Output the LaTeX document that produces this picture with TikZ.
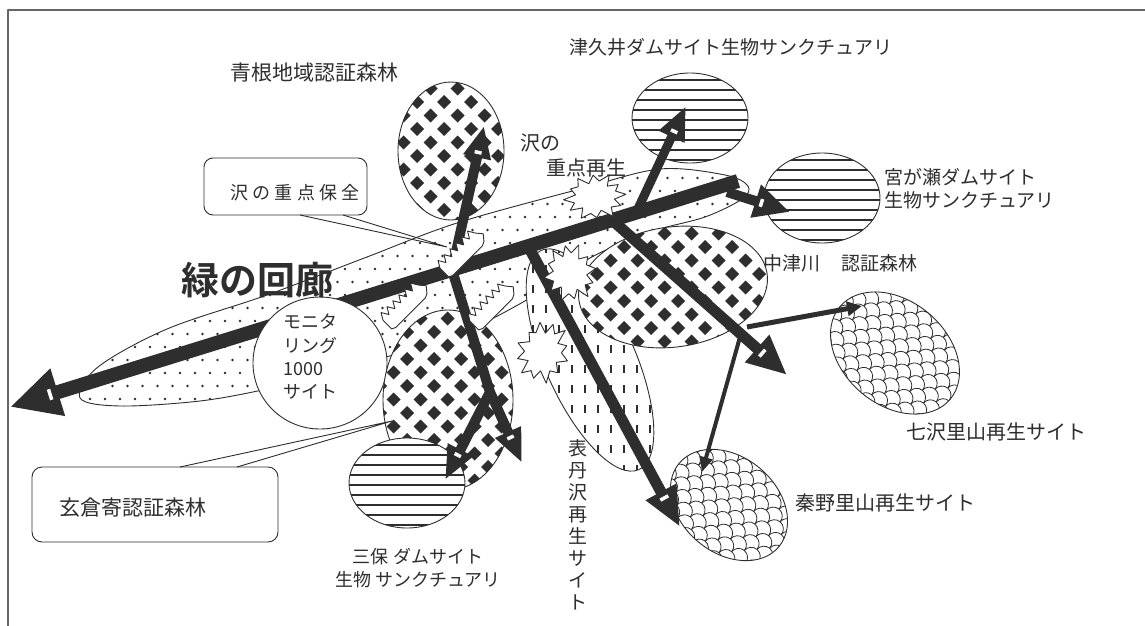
\documentclass[tikz,border=0pt]{standalone}
\usepackage{fontspec}
\newfontfamily\jp{Noto Sans CJK JP}
\newfontfamily\jpb{Noto Sans CJK JP Bold}
\usetikzlibrary{arrows.meta,calc}
\definecolor{ink}{gray}{0.18}
\definecolor{framec}{gray}{0.4}
% diamond grid: x0, y0, cols, rows
\newcommand\dgrid[4]{\foreach \r in {0,...,#4}{\foreach \c in {0,...,#3}{%
  \fill[ink] ({#1+\c*27+mod(\r,2)*13.5},{#2+\r*13.5}) +(0,-7) -- +(7,0) -- +(0,7) -- +(-7,0) -- cycle;}}}
% stripes: x0, x1, y0, count
\newcommand\sgrid[4]{\foreach \k in {0,...,#4}{\draw[ink,line width=1.7pt] (#1,{#3+\k*10}) -- (#2,{#3+\k*10});}}
% fish scales: xmin, ymin, cols, rows
\newcommand\scalegrid[4]{\foreach \r in {0,...,#4}{\foreach \c in {0,...,#3}{%
  \draw[ink,line width=0.8pt] ({#1+\c*18+mod(\r,2)*9},{#2+\r*9}) arc[start angle=180,end angle=360,radius=9];}}}
% white tick near an arrow head: start, tip, distance from tip, height
\newcommand\whitetick[4]{\path (#1) -- ($(#2)!#3!(#1)$) node[pos=1,sloped,fill=white,inner sep=0pt,minimum width=3.5pt,minimum height=#4]{};}
% jagged white burst: cx, cy, rx, ry, rotation
\newcommand\jag[5]{\filldraw[draw=ink,line width=0.9pt,fill=white,rotate around={#5:(#1,#2)}] ({#1+#3},{#2})
  \foreach \k/\f in {1/.64,2/.93,3/.7,4/1.05,5/.62,6/.9,7/.72,8/1,9/.6,10/.96,11/.7,12/1.02,13/.64,14/.88,15/.72,16/1,17/.62,18/.95,19/.7,20/1.04,21/.6,22/.9,23/.7}
  { -- ({#1+#3*\f*cos(\k*15)},{#2+#4*\f*sin(\k*15)}) } -- cycle;}
% spiky bar: cx, cy, half length, half width, rotation
\newcommand\spikebar[5]{\filldraw[draw=ink,line width=0.9pt,fill=white,rotate around={#5:(#1,#2)}] ({#1-#3},{#2-#4})
  \foreach \k/\s in {1/1,2/0,3/1,4/0,5/1,6/0,7/1,8/0,9/1,10/0,11/1}{ -- ({#1-#3+\k*2*#3/12},{#2-#4-\s*7}) } -- ({#1+#3},{#2-#4}) -- ({#1+#3+5},{#2})
  -- ({#1+#3},{#2+#4}) \foreach \k/\s in {11/1,9/1,7/1,5/1,3/1,1/1}{ -- ({#1-#3+\k*2*#3/12},{#2+#4+\s*2}) } -- ({#1-#3},{#2+#4}) -- cycle;}
\newcommand\corridorpath{plot[smooth cycle,tension=0.55] coordinates {(80,398) (98,367) (167,329) (267,295) (367,257) (457,223) (580,189) (660,169) (725,175) (748,186) (742,199) (705,217) (650,232) (590,258) (530,298) (460,334) (393,355) (330,373) (267,389) (200,401) (120,406)}}
\begin{document}
\begin{tikzpicture}[x=1pt,y=-1pt,line join=round,
  outl/.style={draw=ink,line width=0.9pt},
  lbl/.style={text=ink,inner sep=0pt,font=\jp\fontsize{19}{23}\selectfont}]
\useasboundingbox (0,0) rectangle (1145,626);
\fill[white] (0,0) rectangle (1145,626);
% frame
\draw[framec,line width=1.3pt] (8,626) -- (8,10) -- (1145,10);

% named end points
\coordinate (mainR) at (738,181);
\coordinate (mainL) at (10,407);
\coordinate (J0) at (452,270);
\coordinate (aoneT) at (484,126);
\coordinate (tsuS) at (636,213);
\coordinate (tsuT) at (686,106);
\coordinate (miyS) at (727,192);
\coordinate (miyT) at (790,212);
\coordinate (nakS) at (612,220);
\coordinate (nakT) at (787,375);
\coordinate (omoS) at (528,246);
\coordinate (omoT) at (680,527);
\coordinate (F) at (490,392);
\coordinate (mih1T) at (445,480);
\coordinate (mih2T) at (522,463);
\coordinate (nanS) at (747,327);
\coordinate (nanT) at (862,306);
\coordinate (hadS) at (740,337);
\coordinate (hadT) at (702,472);

% green corridor (dotted)
\begin{scope}
\clip \corridorpath;
\foreach \r in {0,...,19}{\foreach \c in {0,...,45}{\fill[ink] ({75+\c*15+mod(\r,2)*7.5},{165+\r*13}) circle[radius=1.3pt];}}
\end{scope}
\draw[outl] \corridorpath;

% Omote-Tanzawa dashed ellipse
\fill[white,rotate around={-66:(590,360)}] (590,360) ellipse [x radius=120,y radius=45];
\begin{scope}
\clip[rotate around={-66:(590,360)}] (590,360) ellipse [x radius=120,y radius=45];
\foreach \r in {0,...,11}{\foreach \c in {0,...,11}{\draw[ink,line width=2pt] ({520+\c*13},{245+\r*20}) -- ++(0,8);}}
\end{scope}
\draw[outl,rotate around={-66:(590,360)}] (590,360) ellipse [x radius=120,y radius=45];

% main arrow
\draw[ink,line width=14pt,-{Triangle[length=50pt,width=46pt]}] (mainR) -- (mainL);
\whitetick{mainR}{mainL}{42pt}{11pt}

% monitoring bubble
\filldraw[outl,fill=white] (320,363) ellipse [x radius=67,y radius=66];

% checker ellipses
\begin{scope}
\clip (451,151) ellipse [x radius=53,y radius=69];
\fill[white] (380,70) rectangle (520,230);
\dgrid{390}{75}{5}{11}
\end{scope}
\draw[outl] (451,151) ellipse [x radius=53,y radius=69];

\begin{scope}
\clip (448,400) ellipse [x radius=65,y radius=90];
\fill[white] (370,300) rectangle (530,500);
\dgrid{380}{305}{5}{14}
\end{scope}
\draw[outl] (448,400) ellipse [x radius=65,y radius=90];

\begin{scope}
\clip[rotate around={8:(673,287)}] (673,287) ellipse [x radius=95,y radius=60];
\fill[white] (560,210) rectangle (790,370);
\dgrid{570}{220}{8}{10}
\end{scope}
\draw[outl,rotate around={8:(673,287)}] (673,287) ellipse [x radius=95,y radius=60];

% striped ellipses
\begin{scope}
\clip (690,118) ellipse [x radius=58,y radius=45];
\fill[white] (620,70) rectangle (760,170);
\sgrid{625}{755}{80}{8}
\end{scope}
\draw[outl] (690,118) ellipse [x radius=58,y radius=45];

\begin{scope}
\clip (822,198) ellipse [x radius=58,y radius=45];
\fill[white] (760,150) rectangle (890,250);
\sgrid{757}{887}{160}{8}
\end{scope}
\draw[outl] (822,198) ellipse [x radius=58,y radius=45];

\begin{scope}
\clip (407,483) ellipse [x radius=58,y radius=45];
\fill[white] (345,435) rectangle (470,532);
\sgrid{342}{472}{445}{8}
\end{scope}
\draw[outl] (407,483) ellipse [x radius=58,y radius=45];

% scale-pattern ellipses
\begin{scope}[shift={(895,353)},rotate=-40]
\fill[white] (0,0) ellipse [x radius=72,y radius=52];
\begin{scope}
\clip (0,0) ellipse [x radius=72,y radius=52];
\scalegrid{-90}{-70}{10}{16}
\end{scope}
\draw[outl] (0,0) ellipse [x radius=72,y radius=52];
\end{scope}

\begin{scope}[shift={(729,505)},rotate=-40]
\fill[white] (0,0) ellipse [x radius=65,y radius=48];
\begin{scope}
\clip (0,0) ellipse [x radius=65,y radius=48];
\scalegrid{-85}{-65}{10}{15}
\end{scope}
\draw[outl] (0,0) ellipse [x radius=65,y radius=48];
\end{scope}

% arrows
\draw[ink,line width=10pt,-{Triangle[length=32pt,width=26pt]}] (J0) -- (aoneT);
\whitetick{J0}{aoneT}{27pt}{7pt}
\draw[ink,line width=9pt,-{Triangle[length=34pt,width=26pt]}] (tsuS) -- (tsuT);
\whitetick{tsuS}{tsuT}{28pt}{7pt}
\draw[ink,line width=10pt,-{Triangle[length=36pt,width=32pt]}] (miyS) -- (miyT);
\whitetick{miyS}{miyT}{30pt}{8pt}
\draw[ink,line width=11pt,-{Triangle[length=40pt,width=34pt]}] (nakS) -- (nakT);
\whitetick{nakS}{nakT}{33pt}{9pt}
\draw[ink,line width=11pt,-{Triangle[length=40pt,width=32pt]}] (omoS) -- (omoT);
\whitetick{omoS}{omoT}{33pt}{9pt}
\draw[ink,line width=10pt,line cap=round] (J0) -- (F);
\draw[ink,line width=10pt,-{Triangle[length=34pt,width=26pt]}] (F) -- (mih1T);
\whitetick{F}{mih1T}{28pt}{7pt}
\draw[ink,line width=10pt,-{Triangle[length=34pt,width=26pt]}] (F) -- (mih2T);
\whitetick{F}{mih2T}{28pt}{7pt}
\draw[ink,line width=5pt,-{Triangle[length=15pt,width=14pt]}] (nanS) -- (nanT);
\draw[ink,line width=4pt,-{Triangle[length=15pt,width=13pt]}] (hadS) -- (hadT);

% bursts and spiky bars
\jag{570}{273}{26}{29}{10}
\jag{543}{352}{26}{31}{-20}
\jag{595}{197}{31}{23}{5}
\spikebar{462}{255}{25}{6}{45}
\spikebar{405}{307}{25}{6}{45}
\spikebar{492}{308}{25}{6}{45}

% callout boxes
\node[draw=ink,line width=0.9pt,fill=white,rounded corners=9pt,minimum width=163pt,minimum height=57pt,inner sep=0pt] (hozenBox) at (285.5,186.5) {};
\coordinate (hzA) at (300,215);
\coordinate (hzB) at (343,215);
\coordinate (hzTip) at (447,247);
\draw[outl] (hzA) -- (hzTip) (hzB) -- (hzTip);
\node[lbl,font=\jp\fontsize{18}{22}\selectfont] (hozenL) at (295,193) {沢 の 重 点 保 全};

\node[draw=ink,line width=0.9pt,fill=white,rounded corners=10pt,minimum width=246pt,minimum height=75pt,inner sep=0pt] (kuraBox) at (155,504.5) {};
\coordinate (kzA) at (180,467);
\coordinate (kzB) at (237,467);
\coordinate (kzTip) at (392,421);
\draw[outl] (kzA) -- (kzTip) (kzB) -- (kzTip);
\node[lbl,font=\jp\fontsize{21}{24}\selectfont] (kuraL) at (133,508) {玄倉寄認証森林};

% labels
\node[text=ink,inner sep=0pt,font=\jpb\fontsize{38}{42}\selectfont] (midori) at (257,280) {緑の回廊};
\node[lbl,font=\jp\fontsize{18}{23.3}\selectfont,align=left,anchor=west] (monL) at (283,357) {モニタ\\リング\\1000\\サイト};
\node[lbl,font=\jp\fontsize{21}{24}\selectfont] (aoneL) at (314,73) {青根地域認証森林};
\node[lbl] (tsuL) at (731,47) {津久井ダムサイト生物サンクチュアリ};
\node[lbl,align=left,anchor=west] (miyL) at (884,189) {宮が瀬ダムサイト\\生物サンクチュアリ};
\node[lbl,font=\jp\fontsize{20}{24}\selectfont] (sawa1) at (540,143) {沢の};
\node[lbl,font=\jp\fontsize{20}{24}\selectfont] (sawa2) at (586,168) {重点再生};
\node[lbl,anchor=west] (nakL) at (763,263) {中津川\hspace{21pt}認証森林};
\node[lbl,font=\jp\fontsize{20}{24}\selectfont] (nanL) at (996,432) {七沢里山再生サイト};
\node[lbl,font=\jp\fontsize{20}{24}\selectfont,anchor=west] (hadL) at (795,503) {秦野里山再生サイト};
\node[lbl,font=\jp\fontsize{19}{22}\selectfont,align=center] (omoL) at (578,525) {表\\丹\\沢\\再\\生\\サ\\イ\\ト};
\node[lbl,font=\jp\fontsize{18}{23}\selectfont,align=center] (mihL) at (418,568) {三保 ダムサイト\\生物 サンクチュアリ};
\end{tikzpicture}
\end{document}
